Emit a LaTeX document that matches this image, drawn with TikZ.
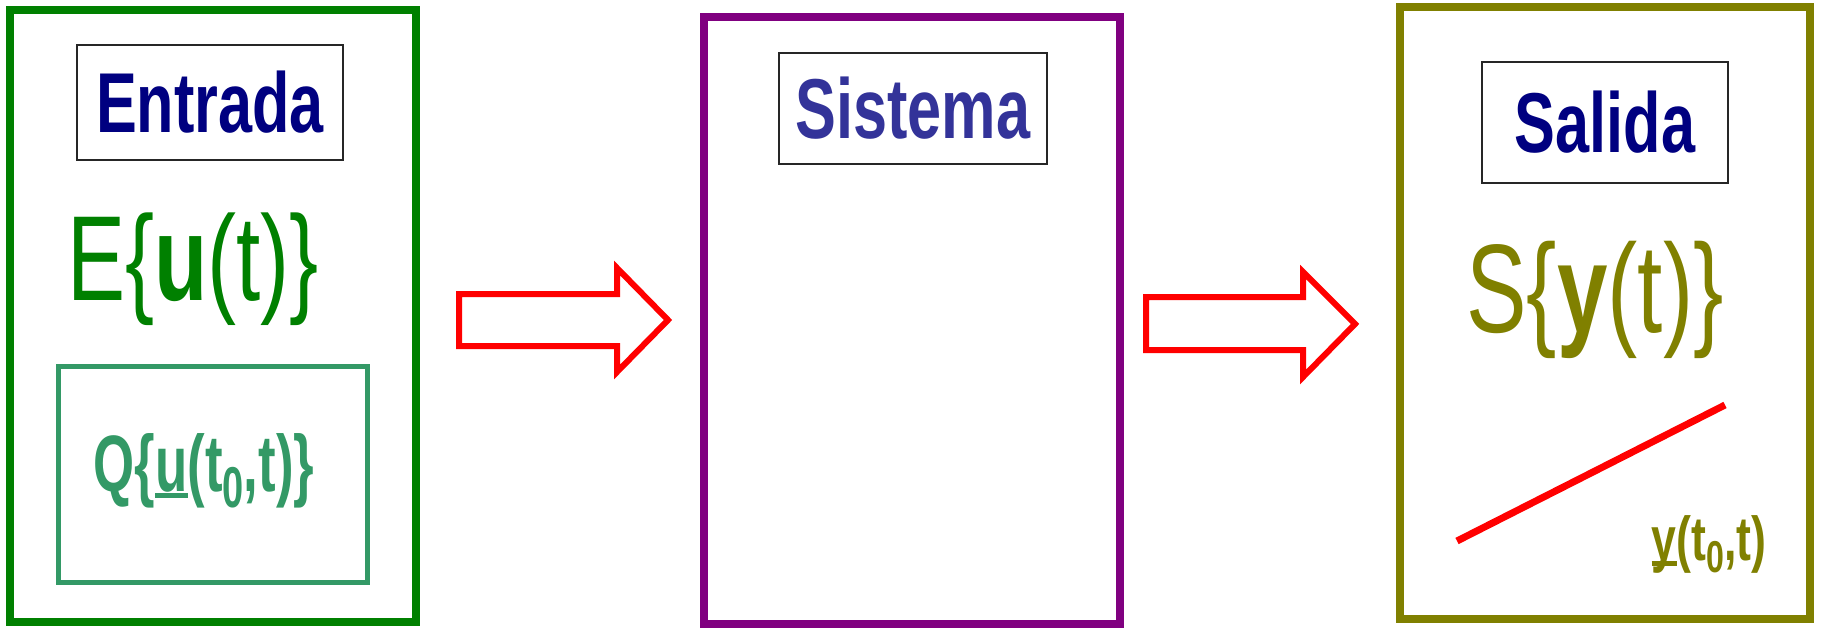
\documentclass[tikz,border=0pt]{standalone}
\usepackage{fontspec}
\setmainfont{Liberation Sans}[FakeStretch=0.72]
\newfontfamily\tighter{Liberation Sans}[FakeStretch=0.66]

\definecolor{ingreen}{RGB}{0,128,0}
\definecolor{seagreen}{RGB}{51,153,102}
\definecolor{navyblue}{RGB}{0,0,128}
\definecolor{sysblue}{RGB}{51,51,153}
\definecolor{sysviolet}{RGB}{128,0,128}
\definecolor{outolive}{RGB}{128,128,0}
\definecolor{arrowred}{RGB}{255,0,0}

% lowered, smaller index
\newcommand\idx[1]{\raisebox{-0.2em}{\scalebox{0.72}{#1}}}
% bar under a letter, independent of its depth
\newcommand\barunder[1]{\setbox0=\hbox{#1}\rlap{\rule[-0.09em]{\wd0}{0.07em}}\box0}

\tikzset{
  frame/.style={draw, line width=8, inner sep=0, fill=none},
  labelbox/.style={draw=black!85, line width=1.6, inner sep=0,
    font=\fontsize{85}{95}\selectfont\bfseries},
  bigformula/.style={inner sep=0, anchor=base},
  blockarrow/.style={draw=arrowred, line width=6, line join=miter},
}

\begin{document}
\begin{tikzpicture}[x=1pt,y=-1pt]
\useasboundingbox (0,0) rectangle (1821,627);

% three stages
\node[frame, draw=ingreen, minimum width=406, minimum height=612] (inframe) at (213,316) {};
\node[frame, draw=sysviolet, minimum width=416, minimum height=607] (sysframe) at (912,320.5) {};
\node[frame, draw=outolive, minimum width=410, minimum height=612] (outframe) at (1605,313) {};

% titles
\node[labelbox, text=navyblue, minimum width=266, minimum height=115] (entrada) at (210,102.5) {Entrada};
\node[labelbox, text=sysblue, minimum width=268, minimum height=111] (sistema) at (913,108.5) {Sistema};
\node[labelbox, text=navyblue, minimum width=246, minimum height=121] (salida) at (1605,122.5) {Salida};

% input side
\node[bigformula, text=ingreen, font=\fontsize{121}{130}\selectfont] (eut) at (193,300) {E\{\textbf{u}(t)\}};
\node[draw=seagreen, line width=5, inner sep=0, minimum width=309, minimum height=216] (qbox) at (212.5,474) {};
\node[bigformula, text=seagreen, font=\fontsize{80}{90}\tighter\bfseries] (qut) at (204,491) {Q\{\barunder{u}(t\idx{0},t)\}};

% output side
\node[bigformula, text=outolive, font=\fontsize{126}{135}\selectfont] (syt) at (1595,332) {S\{\textbf{y}(t)\}};
\coordinate (trajA) at (1457,541);
\coordinate (trajB) at (1725,405);
\draw[arrowred, line width=7] (trajA) -- (trajB);
\node[bigformula, text=outolive, font=\fontsize{62}{70}\selectfont\bfseries] (yt) at (1709,560) {\barunder{y}(t\idx{0},t)};

% block arrows between stages
\draw[blockarrow] (459,294) -- (617,294) -- (617,268) -- (668,320) -- (617,372) -- (617,346) -- (459,346) -- cycle;
\draw[blockarrow] (1146,297) -- (1303,297) -- (1303,272) -- (1355,324) -- (1303,377) -- (1303,350) -- (1146,350) -- cycle;
\end{tikzpicture}
\end{document}
